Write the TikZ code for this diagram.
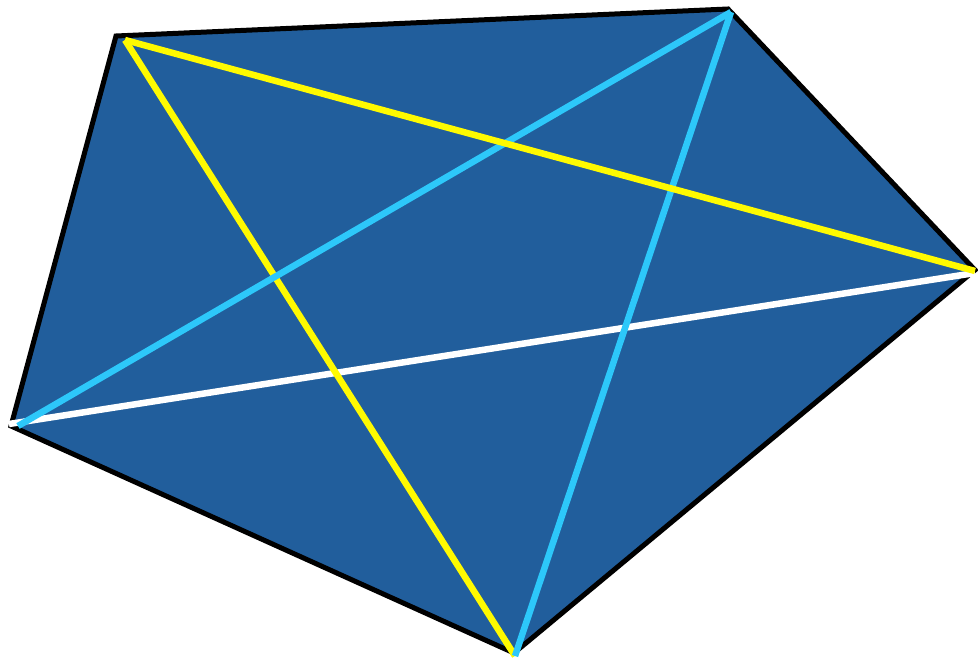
\documentclass[tikz,border=0pt]{standalone}
\usepackage{tikz}

\definecolor{pentafill}{RGB}{33,94,156}
\definecolor{diagcyan}{RGB}{45,200,250}
\definecolor{diagyellow}{RGB}{255,250,0}

\begin{document}
\begin{tikzpicture}[
  x=1pt, y=-1pt,
  rim/.style={draw=black, line width=5pt, line join=miter, fill=pentafill},
  diag/.style={line width=6.5pt}
]
\useasboundingbox (0,0) rectangle (978,661);

% corners of the pentagon
\coordinate (pa) at (116,36);
\coordinate (pb) at (728,9);
\coordinate (pc) at (975,270);
\coordinate (pd) at (514,653);
\coordinate (pe) at (11,426);

% ends of the diagonals, a little inside the rim
\coordinate (ya) at (125,40);
\coordinate (yc) at (975,271);
\coordinate (yd) at (515,656);
\coordinate (cb) at (731,12);
\coordinate (ce) at (18,426);
\coordinate (we) at (9,424);
\coordinate (wc) at (975,273);

\draw[rim] (pa) -- (pb) -- (pc) -- (pd) -- (pe) -- cycle;

% drawing order sets which line lies on top
\draw[diag, white] (we) -- (wc);
\draw[diag, diagyellow] (ya) -- (yd);
\draw[diag, diagcyan] (ce) -- (cb);
\draw[diag, diagcyan] (cb) -- (yd);
\draw[diag, diagyellow] (ya) -- (yc);
\end{tikzpicture}
\end{document}
